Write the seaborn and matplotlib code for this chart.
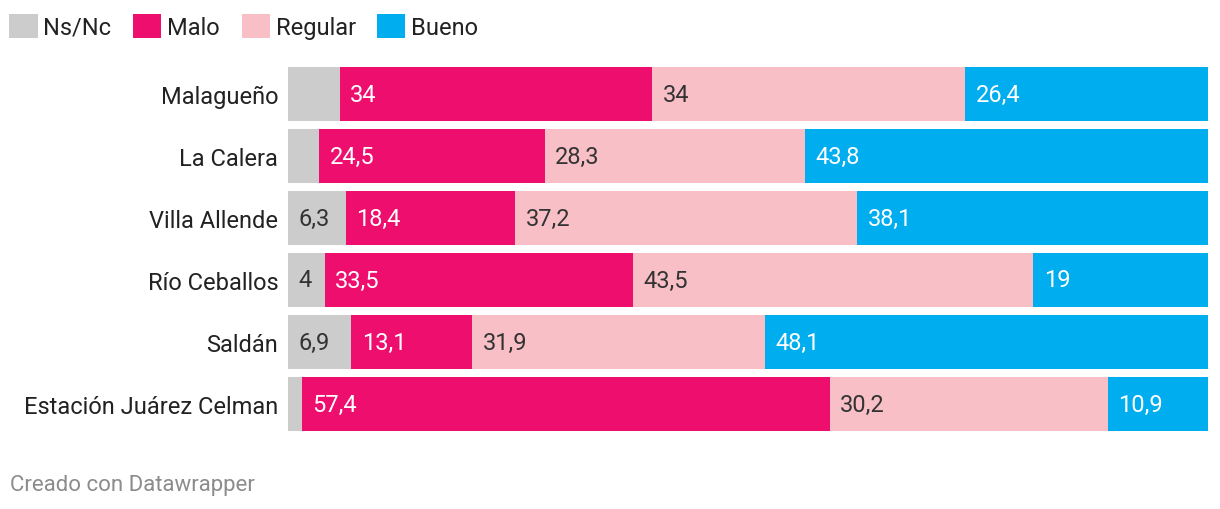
import numpy as np
import pandas as pd
import matplotlib
matplotlib.use("Agg")
import matplotlib.pyplot as plt
from matplotlib.patches import Patch
import seaborn as sns

categories = ["Malagueño", "La Calera", "Villa Allende", "Río Ceballos",
              "Saldán", "Estación Juárez Celman"]
series = ["Ns/Nc", "Malo", "Regular", "Bueno"]
ns_nc = [5.6, 3.4, 6.3, 4.0, 6.9, 1.5]
malo = [34.0, 24.5, 18.4, 33.5, 13.1, 57.4]
regular = [34.0, 28.3, 37.2, 43.5, 31.9, 30.2]
bueno = [26.4, 43.8, 38.1, 19.0, 48.1, 10.9]
ns_labels = ["", "", "6,3", "4", "6,9", ""]

colors = ["#cccccc", "#ee0e6e", "#f8c0c6", "#00aeef"]
text_colors = ["#333333", "#ffffff", "#333333", "#ffffff"]

sns.set_style("white")
plt.rcParams["font.family"] = ["Roboto", "DejaVu Sans"]

values = np.array([ns_nc, malo, regular, bueno])
cum = np.cumsum(values, axis=0)
lefts = cum - values

fig = plt.figure(figsize=(12.2, 5.1), dpi=100)
ax = fig.add_axes([288 / 1220, (510 - 436) / 510, 920 / 1220, 372 / 510])

# draw the stack from the outermost layer inwards
for i in reversed(range(len(series))):
    df = pd.DataFrame({"cat": categories, "val": cum[i]})
    sns.barplot(data=df, x="val", y="cat", orient="h", color=colors[i],
                width=0.87, saturation=1, ax=ax, linewidth=0)

for i, name in enumerate(series):
    for j, cat in enumerate(categories):
        if i == 0:
            lab = ns_labels[j]
        else:
            lab = f"{values[i, j]:g}".replace(".", ",")
        if not lab:
            continue
        ax.annotate(lab, xy=(lefts[i, j], j), xytext=(7.5, 0),
                    textcoords="offset points", va="center", ha="left",
                    fontsize=17, color=text_colors[i])

ax.set_xlim(0, 100)
ax.set_ylim(5.5, -0.5)
ax.set_xlabel("")
ax.set_ylabel("")
ax.set_xticks([])
ax.tick_params(axis="y", length=0, pad=7, labelsize=17, labelcolor="#222222")
sns.despine(ax=ax, left=True, bottom=True)

handles = [Patch(facecolor=c, edgecolor="none") for c in colors]
fig.legend(handles, series, loc="upper left", bbox_to_anchor=(0.0, 0.99),
           ncol=4, frameon=False, fontsize=17, handlelength=1.19,
           handleheight=1.19, handletextpad=0.25, columnspacing=0.92,
           borderaxespad=0.2, borderpad=0.2, labelcolor="#222222")

fig.text(10 / 1220, 1 - 486 / 510, "Creado con Datawrapper", fontsize=16,
         color="#8c8c8c", va="center", ha="left")

fig.savefig("out.png", dpi=100)
